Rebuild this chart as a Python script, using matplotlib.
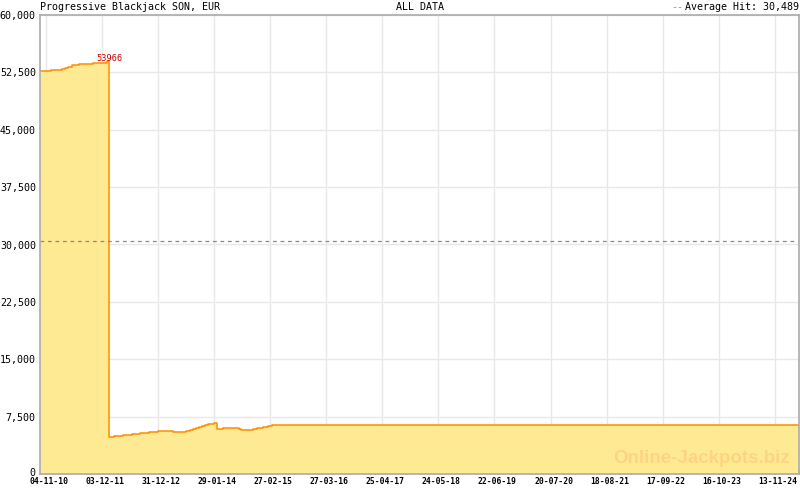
import matplotlib
matplotlib.use("Agg")
import matplotlib.pyplot as plt
import matplotlib.dates as mdates
import matplotlib.transforms as mtransforms
from matplotlib.ticker import FixedLocator, FuncFormatter
import numpy as np

# step points of the jackpot (date, value in EUR)
dates = ["2010-09-23", "2010-12-09", "2011-02-25", "2011-03-18", "2011-04-08",
         "2011-05-06", "2011-06-24", "2011-10-01", "2012-01-07", "2012-01-23",
         "2012-02-25", "2012-04-27", "2012-06-29", "2012-08-26", "2012-10-29",
         "2012-12-31", "2013-04-16", "2013-07-16", "2013-08-13", "2013-09-03",
         "2013-09-24", "2013-10-15", "2013-11-06", "2013-11-27", "2013-12-18",
         "2014-01-29", "2014-02-21", "2014-04-02", "2014-07-24", "2014-08-07",
         "2014-10-30", "2014-11-28", "2015-01-09", "2015-02-13", "2015-03-13",
         "2025-05-01"]
values = [52680, 52770, 52950, 53100, 53250,
          53420, 53600, 53680, 53966, 4800,
          4970, 5060, 5190, 5320, 5450,
          5580, 5450, 5580, 5710, 5840,
          5970, 6100, 6230, 6370, 6500,
          6710, 5840, 5970, 5840, 5710,
          5840, 5970, 6100, 6230, 6370,
          6370]
tick_dates = ["2010-11-04", "2011-12-03", "2012-12-31", "2014-01-29", "2015-02-27",
              "2016-03-27", "2017-04-25", "2018-05-24", "2019-06-22", "2020-07-20",
              "2021-08-18", "2022-09-17", "2023-10-16", "2024-11-13"]
peak_date = "2012-01-07"
peak_value = 53966
average_hit = 30489
title_left = "Progressive Blackjack SON, EUR"
title_mid = "ALL DATA"
watermark = "Online-Jackpots.biz"


def to_num(lst):
    return mdates.date2num(np.array(lst, dtype="datetime64[D]").astype("datetime64[s]").astype(object))


xn = to_num(dates)
y = np.array(values)
major = to_num(tick_dates)

fig = plt.figure(figsize=(8, 4.9), dpi=100)
ax = fig.add_axes([40/800, 16/490, 759/800, 459/490])

ax.fill_between(xn, y, 0, step="post", color="#ffea94", linewidth=0)
ax.step(xn, y, where="post", color="#ff8c00", linewidth=1.1)
ax.axhline(average_hit, color="#888888", linestyle=(0, (3, 3)), linewidth=0.9)

ax.set_xlim(xn[0], xn[-1])
ax.set_ylim(0, 60000)

# minor ticks: 7 per major interval
minor = []
prev = np.concatenate([[major[0] - (major[1] - major[0])], major])
for a, b in zip(prev[:-1], prev[1:]):
    minor.extend(a + (b - a) * np.arange(1, 7) / 7)
minor.extend(major[-1] + (major[-1] - major[-2]) * np.arange(1, 7) / 7)
minor = np.array(minor)
minor = minor[(minor >= xn[0]) & (minor <= xn[-1])]
ax.xaxis.set_major_locator(FixedLocator(major))
ax.xaxis.set_minor_locator(FixedLocator(minor))
ax.xaxis.set_major_formatter(mdates.DateFormatter("%d-%m-%y"))
ax.set_yticks(np.arange(0, 60001, 7500))
ax.yaxis.set_major_formatter(FuncFormatter(lambda v, p: f"{int(v):,}"))

ax.grid(True, which="major", color="#e8e8e8", linewidth=1)
ax.set_axisbelow(True)
for s in ax.spines.values():
    s.set_color("#aaaaaa")
    s.set_linewidth(1.2)

ax.tick_params(axis="x", which="major", direction="in", length=6, color="#aaaaaa",
               pad=2.5, labelsize=5.8)
ax.tick_params(axis="x", which="minor", direction="in", length=3, color="#aaaaaa")
ax.tick_params(axis="y", length=0, pad=3, labelsize=7.2)
shift = mtransforms.ScaledTranslation(3/100, 0, fig.dpi_scale_trans)
for lab in ax.get_xticklabels():
    lab.set_fontweight("bold")
    lab.set_transform(lab.get_transform() + shift)
for lab in ax.get_xticklabels() + ax.get_yticklabels():
    lab.set_family("DejaVu Sans Mono")
ylabs = ax.get_yticklabels()
ylabs[0].set_transform(ylabs[0].get_transform() + mtransforms.ScaledTranslation(0, 2/100, fig.dpi_scale_trans))

pk = mdates.date2num(np.datetime64(peak_date).astype(object))
ax.annotate(str(peak_value), (pk, peak_value), xytext=(-8, -1), textcoords="offset points",
            color="#cc0000", fontsize=6.2, family="DejaVu Sans Mono", ha="left", va="bottom")

ax.text(0.988, 0.034, watermark, transform=ax.transAxes, ha="right", va="center",
        fontsize=13.5, fontweight="bold", family="Liberation Sans", color="#ffd480")

fig.text(40/800, 1 - 7/490, title_left, ha="left", va="center", fontsize=7.2,
         family="DejaVu Sans Mono")
fig.text(420/800, 1 - 7/490, title_mid, ha="center", va="center", fontsize=7.2,
         family="DejaVu Sans Mono")
fig.text(799/800, 1 - 7/490, f"Average Hit: {average_hit:,}", ha="right", va="center",
         fontsize=7.2, family="DejaVu Sans Mono")
fig.text(683/800, 1 - 7/490, "--", ha="right", va="center", fontsize=7.2,
         family="DejaVu Sans Mono", color="#5aa0d0")

fig.savefig("out.png", dpi=100)
